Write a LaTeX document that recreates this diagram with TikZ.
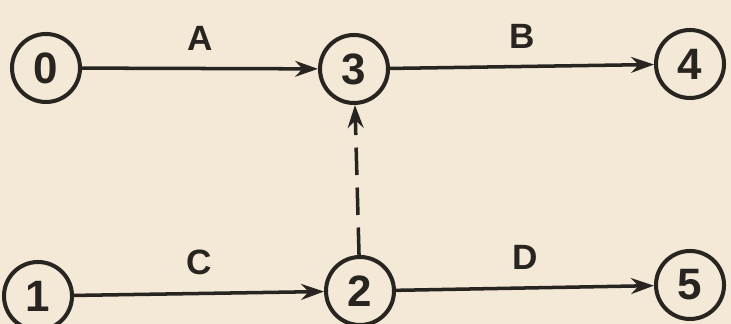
\documentclass[tikz,border=0pt]{standalone}
\usepackage{fontspec}
\setsansfont{Liberation Sans}
\usepackage{xcolor}
\usepackage{tikz}
\usetikzlibrary{arrows.meta,positioning}
\definecolor{paper}{RGB}{243,233,214}
\definecolor{ink}{RGB}{40,37,33}

\begin{document}
\begin{tikzpicture}[
  every node/.style={font=\sffamily\bfseries, text=ink},
  event/.style={circle, draw=ink, line width=2.3pt,
                minimum size=1.36cm, inner sep=0pt,
                font=\fontsize{25}{27}\sffamily\bfseries},
  act/.style={draw=ink, line width=2pt,
              -{Stealth[length=13pt, width=9pt]}},
  dummy/.style={act, dash pattern=on 0.55cm off 0.25cm},
  lbl/.style={midway, above=6pt, font=\fontsize{20}{22}\sffamily\bfseries},
]

%% ── Paper ──────────────────────────────────────────────────────────────
\fill[paper] (0,0) rectangle (14.62,6.48);
\useasboundingbox (0,0) rectangle (14.62,6.48);

%% ── Events ─────────────────────────────────────────────────────────────
\node[event] (e0) at (0.92, 5.12) {0};
\node[event] (e3) at (7.08, 5.1)  {3};
\node[event] (e4) at (13.8, 5.2)  {4};
\node[event] (e1) at (0.76, 0.56) {1};
\node[event] (e2) at (7.2,  0.66) {2};
\node[event] (e5) at (13.8, 0.78) {5};

%% ── Activities ─────────────────────────────────────────────────────────
\draw[act] (e0) -- (e3) node[lbl]{A};
\draw[act] (e3) -- (e4) node[lbl]{B};
\draw[act] (e1) -- (e2) node[lbl]{C};
\draw[act] (e2) -- (e5) node[lbl]{D};

%% ── Dummy ──────────────────────────────────────────────────────────────
\draw[dummy] (e2) -- (e3);

\end{tikzpicture}
\end{document}
